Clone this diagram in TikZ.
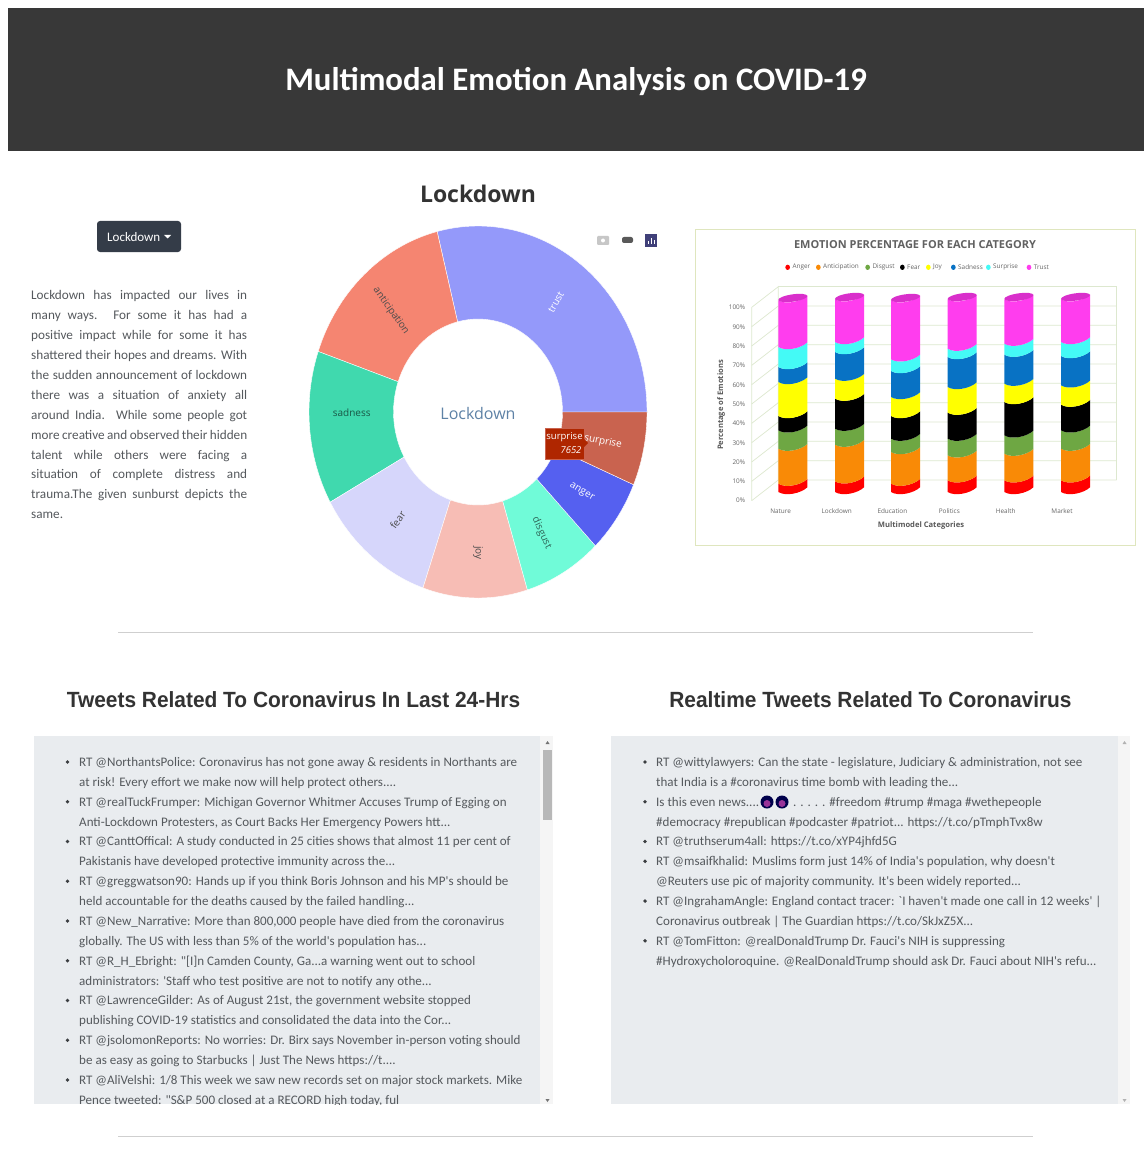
\documentclass[tikz,border=0pt]{standalone}
\usepackage{fontspec}
\setmainfont{Open Sans}
\newfontfamily\arialf{Liberation Sans}
\newfontfamily\carlf{Carlito}
\definecolor{banner}{HTML}{383838}
\definecolor{btnbg}{HTML}{343C48}
\definecolor{panelbg}{HTML}{E9ECEF}
\definecolor{txtgrey}{HTML}{55595D}
\definecolor{rulegrey}{HTML}{CFCFCF}
\definecolor{ctrust}{HTML}{9499FA}
\definecolor{canti}{HTML}{F58571}
\definecolor{csad}{HTML}{40D9AE}
\definecolor{cfear}{HTML}{D6D6FB}
\definecolor{cjoy}{HTML}{F7BDB5}
\definecolor{cdisg}{HTML}{70FBD8}
\definecolor{canger}{HTML}{5560F0}
\definecolor{csurp}{HTML}{C9634F}
\definecolor{ccenter}{HTML}{5E82A6}
\definecolor{bred}{HTML}{FF0000}
\definecolor{borange}{HTML}{F98A06}
\definecolor{bgreen}{HTML}{6EA743}
\definecolor{bblack}{HTML}{000000}
\definecolor{byellow}{HTML}{FFFF00}
\definecolor{bblue}{HTML}{0872C4}
\definecolor{bcyan}{HTML}{44FAF6}
\definecolor{bmag}{HTML}{FF3DEE}
\definecolor{bmagtop}{HTML}{D92FCB}
\definecolor{chartborder}{HTML}{DFE6BE}
\definecolor{chartgrid}{HTML}{DDE8CF}
\newcounter{lnum}
\newcommand{\twl}[3]{\stepcounter{lnum}\pgfmathsetmacro{\ly}{766.5+19.87*#2}%
  \node[twline] (l\arabic{lnum}) at (#1,\ly) {#3};}
\newcommand{\twb}[2]{\pgfmathsetmacro{\ly}{762+19.87*#2}\fill[txtgrey!70!black] (#1,\ly) circle[radius=1.9];}
\newcommand{\jl}[1]{\makebox[216pt][s]{#1}\\}
\newcommand{\seg}[4]{\fill[#2] (#1,#3+6) .. controls (#1+22,#3+20) and (#1+68,#3+10) .. (#1+87,#3-8) -- (#1+87,#4-8) .. controls (#1+68,#4+10) and (#1+22,#4+20) .. (#1,#4+6) -- cycle;}
\newcommand{\cyl}[9]{%
  \seg{#1}{bred}{#2}{810}\seg{#1}{borange}{#3}{#2}\seg{#1}{bgreen}{#4}{#3}\seg{#1}{bblack}{#5}{#4}%
  \seg{#1}{byellow}{#6}{#5}\seg{#1}{bblue}{#7}{#6}\seg{#1}{bcyan}{#8}{#7}\seg{#1}{bmag}{#9}{#8}%
  \fill[bmagtop,rotate around={8:(#1+43.5,#9-1)}] (#1+43.5,#9-1) ellipse[x radius=44,y radius=11];}
\newcommand{\slice}[3]{\fill[#3,draw=white,line width=.4pt] (#1:169 and 186) arc[start angle=#1,end angle=#2,x radius=169,y radius=186] -- (#2:84.5 and 93) arc[start angle=#2,end angle=#1,x radius=84.5,y radius=93] -- cycle;}
\tikzset{
  twline/.style={anchor=base west,inner sep=0pt,font=\carlf\fontsize{13.05}{15}\selectfont,text=txtgrey},
  heading/.style={inner sep=0pt,xscale=.95,font=\arialf\bfseries\fontsize{22}{28}\selectfont,text=black!80},
  slicelabel/.style={inner sep=0pt,font=\fontsize{10}{12}\selectfont},
  ticklabel/.style={inner sep=0pt,font=\fontsize{6.4}{8}\selectfont,text=black!60},
  legendlabel/.style={anchor=west,inner sep=0pt,font=\fontsize{6.4}{8}\selectfont,text=black!60},
  axistitle/.style={inner sep=0pt,font=\bfseries\fontsize{7.6}{9}\selectfont,text=black!65},
}
\begin{document}
\begin{tikzpicture}[x=1pt,y=-1pt]
\useasboundingbox (0,0) rectangle (1144,1166);
\fill[white] (0,0) rectangle (1144,1166);
% banner
\fill[banner] (8,8) rectangle (1144,151);
\node[anchor=base,inner sep=0pt,text=white,font=\carlf\bfseries\fontsize{32.8}{40}\selectfont] (title) at (576,90.5) {Multimodal Emotion Analysis on COVID-19};
\node[inner sep=0pt,text=black!80,font=\bfseries\fontsize{23}{30}\selectfont] (sect) at (478,194) {Lockdown};
% dropdown
\fill[btnbg,rounded corners=3pt] (97,221) rectangle (181,252);
\node[inner sep=0pt,anchor=west,text=white,font=\carlf\fontsize{13}{14}\selectfont] (ddown) at (107,237) {Lockdown};
\fill[white] (164,235) -- (171,235) -- (167.5,238.5) -- cycle;
% paragraph
\node[anchor=north west,inner sep=0pt,align=left,text=txtgrey,font=\carlf\fontsize{13.2}{19.9}\selectfont] (para) at (31,290.5) {%
\jl{Lockdown has impacted our lives in}
\jl{many ways. For some it has had a}
\jl{positive impact while for some it has}
\jl{shattered their hopes and dreams. With}
\jl{the sudden announcement of lockdown}
\jl{there was a situation of anxiety all}
\jl{around India. While some people got}
\jl{more creative and observed their hidden}
\jl{talent while others were facing a}
\jl{situation of complete distress and}
\jl{trauma.The given sunburst depicts the}
same.};
% donut
\begin{scope}[shift={(478,412)},y=1pt]
\slice{0}{104}{ctrust}
\slice{104}{161}{canti}
\slice{161}{209}{csad}
\slice{209}{251}{cfear}
\slice{251}{287}{cjoy}
\slice{287}{314}{cdisg}
\slice{314}{337}{canger}
\slice{337}{360}{csurp}
\end{scope}
\node[slicelabel,text=white,rotate=60] (ltrust) at (556,302) {trust};
\node[slicelabel,text=black!70,rotate=-55] (lanti) at (391,311) {anticipation};
\node[slicelabel,text=black!60!csad,rotate=0] (lsad) at (351.7,413) {sadness};
\node[slicelabel,text=white,rotate=-12] (lsurp) at (603,441.7) {surprise};
\node[slicelabel,text=white,rotate=-30] (langer) at (581.7,492) {anger};
\node[slicelabel,text=black!60!cdisg,rotate=-65] (ldisg) at (541.7,533) {disgust};
\node[slicelabel,text=black!70,rotate=-90] (ljoy) at (478,553) {joy};
\node[slicelabel,text=black!70,rotate=55] (lfear) at (397.7,520) {fear};
\node[inner sep=0pt,text=ccenter,font=\fontsize{16}{20}\selectfont] (center) at (478,413) {Lockdown};
% tooltip
\fill[red!55!black!70!orange,draw=csurp] (545,428) rectangle (584,459);
\fill[red!55!black!70!orange] (584,439) -- (588,443) -- (584,447) -- cycle;
\node[inner sep=0pt,text=white,font=\fontsize{9.5}{12}\selectfont] (ttname) at (564.5,437) {surprise};
\node[inner sep=0pt,text=white,font=\itshape\fontsize{9.5}{12}\selectfont] (ttval) at (571,450) {7652};
% toolbar
\fill[black!22,rounded corners=1pt] (597,236) rectangle (609,245);
\fill[white] (603,240.5) circle[radius=2];
\fill[black!65,rounded corners=2pt] (622,237) rectangle (633,243);
\fill[blue!30!black!75] (645,234) rectangle (657,247);
\draw[white,line width=.8pt] (648,244) -- (648,241) (651,244) -- (651,238) (654,244) -- (654,240);
% chart frame
\draw[chartborder,line width=1pt] (695,230) rectangle (1135,545);
\begin{scope}[shift={(690,220)},x=.33333pt,y=-.33333pt]
\node[inner sep=0pt,text=black!62,font=\bfseries\fontsize{11}{12}\selectfont] (ctitle) at (675,75) {EMOTION PERCENTAGE FOR EACH CATEGORY};
% walls
\draw[chartgrid,line width=.7pt] (265,200) -- (1280,200) -- (1280,780);
\draw[chartgrid,line width=.7pt] (185,842) -- (185,262) -- (265,200) -- (265,780);
\foreach \i in {0,...,9}{
  \pgfmathsetmacro{\gy}{780-\i*58}
  \pgfmathsetmacro{\fy}{842-\i*58}
  \draw[chartgrid,line width=.7pt] (185,\fy) -- (265,\gy) -- (1280,\gy);
}
\foreach \i in {0,...,10}{
  \pgfmathsetmacro{\fy}{842-\i*57.9}
  \pgfmathtruncatemacro{\pc}{\i*10}
  \node[ticklabel,anchor=east] (tick\i) at (166,\fy) {\pc\%};
}
\cyl{265}{785}{680}{625}{582}{480}{435}{375}{235}
\cyl{435}{778}{668}{620}{530}{470}{390}{360}{232}
\cyl{603}{785}{690}{650}{582}{525}{447}{412}{235}
\cyl{773}{775}{700}{650}{572}{495}{405}{380}{232}
\cyl{943}{775}{695}{640}{540}{485}{398}{365}{232}
\cyl{1113}{775}{680}{625}{548}{490}{402}{360}{232}
% legend
\foreach \mx/\mc/\mt/\mn in {293/bred/Anger/la,385/borange/Anticipation/lb,533/bgreen/Disgust/lc,637/bblack/Fear/ld,715/byellow/Joy/le,790/bblue/Sadness/lf,895/bcyan/Surprise/lg,1017/bmag/Trust/lh}{
  \fill[\mc] (\mx,142) ellipse[x radius=7,y radius=8];
  \node[legendlabel] (\mn) at (\mx+14,141) {\mt};
}
\foreach \xp/\xt/\xn in {272/Nature/xa,440/Lockdown/xb,607/Education/xc,778/Politics/xd,947/Health/xe,1116/Market/xf}{
  \node[ticklabel] (\xn) at (\xp,873) {\xt};
}
\node[axistitle] (xtitle) at (693,917) {Multimodel Categories};
\node[axistitle,rotate=90] (ytitle) at (93,555) {Percentage of Emotions};
\end{scope}
% rules
\draw[rulegrey,line width=1pt] (118,632) -- (1033,632);
\draw[rulegrey,line width=1pt] (118,1136) -- (1033,1136);
% headings
\node[heading] (hleft) at (293.5,700) {Tweets Related To Coronavirus In Last 24-Hrs};
\node[heading] (hright) at (870.5,700) {Realtime Tweets Related To Coronavirus};
% panels
\fill[panelbg] (34,736) rectangle (553,1104);
\fill[panelbg] (611,736) rectangle (1130,1104);
\fill[black!4] (540,736) rectangle (553,1104);
\fill[black!4] (1118,736) rectangle (1130,1104);
\fill[black!28] (543,750) rectangle (552,820);
\fill[black!55] (547.5,741) -- (545.5,744) -- (549.5,744) -- cycle;
\fill[black!55] (547.5,1102) -- (545.5,1099) -- (549.5,1099) -- cycle;
\fill[black!30] (1124.5,741) -- (1122.5,744) -- (1126.5,744) -- cycle;
\fill[black!30] (1124.5,1102) -- (1122.5,1099) -- (1126.5,1099) -- cycle;
% left tweets
\begin{scope}
\clip (34,736) rectangle (540,1104);
\foreach \i in {0,2,...,16}{\twb{67.5}{\i}}
\twl{79}{0}{RT @NorthantsPolice: Coronavirus has not gone away \& residents in Northants are}
\twl{79}{1}{at risk! Every effort we make now will help protect others....}
\twl{79}{2}{RT @realTuckFrumper: Michigan Governor Whitmer Accuses Trump of Egging on}
\twl{79}{3}{Anti-Lockdown Protesters, as Court Backs Her Emergency Powers htt...}
\twl{79}{4}{RT @CanttOffical: A study conducted in 25 cities shows that almost 11 per cent of}
\twl{79}{5}{Pakistanis have developed protective immunity across the...}
\twl{79}{6}{RT @greggwatson90: Hands up if you think Boris Johnson and his MP's should be}
\twl{79}{7}{held accountable for the deaths caused by the failed handling...}
\twl{79}{8}{RT @New\_Narrative: More than 800,000 people have died from the coronavirus}
\twl{79}{9}{globally. The US with less than 5\% of the world's population has...}
\twl{79}{10}{RT @R\_H\_Ebright: "[I]n Camden County, Ga...a warning went out to school}
\twl{79}{11}{administrators: 'Staff who test positive are not to notify any othe...}
\twl{79}{12}{RT @LawrenceGilder: As of August 21st, the government website stopped}
\twl{79}{13}{publishing COVID-19 statistics and consolidated the data into the Cor...}
\twl{79}{14}{RT @jsolomonReports: No worries: Dr. Birx says November in-person voting should}
\twl{79}{15}{be as easy as going to Starbucks | Just The News https://t....}
\twl{79}{16}{RT @AliVelshi: 1/8 This week we saw new records set on major stock markets. Mike}
\twl{79}{17}{Pence tweeted: "S\&P 500 closed at a RECORD high today, ful}
\end{scope}
% right tweets
\foreach \i in {0,2,4,5,7,9}{\twb{645}{\i}}
\twl{656}{0}{RT @wittylawyers: Can the state - legislature, Judiciary \& administration, not see}
\twl{656}{1}{that India is a \#coronavirus time bomb with leading the...}
\twl{656}{2}{Is this even news....}
\fill[black!70!blue] (767,802) circle[radius=6.5];
\fill[black!70!blue] (782,802) circle[radius=6.5];
\fill[violet!80!white] (767,803.5) circle[radius=3.5];
\fill[violet!80!white] (782,803.5) circle[radius=3.5];
\twl{793}{2}{. . . . . \#freedom \#trump \#maga \#wethepeople}
\twl{656}{3}{\#democracy \#republican \#podcaster \#patriot... https://t.co/pTmphTvx8w}
\twl{656}{4}{RT @truthserum4all: https://t.co/xYP4jhfd5G}
\twl{656}{5}{RT @msaifkhalid: Muslims form just 14\% of India's population, why doesn't}
\twl{656}{6}{@Reuters use pic of majority community. It's been widely reported...}
\twl{656}{7}{RT @IngrahamAngle: England contact tracer: `I haven't made one call in 12 weeks' |}
\twl{656}{8}{Coronavirus outbreak | The Guardian https://t.co/SkJxZ5X...}
\twl{656}{9}{RT @TomFitton: @realDonaldTrump Dr. Fauci's NIH is suppressing}
\twl{656}{10}{\#Hydroxycholoroquine. @RealDonaldTrump should ask Dr. Fauci about NIH's refu...}
\end{tikzpicture}
\end{document}
